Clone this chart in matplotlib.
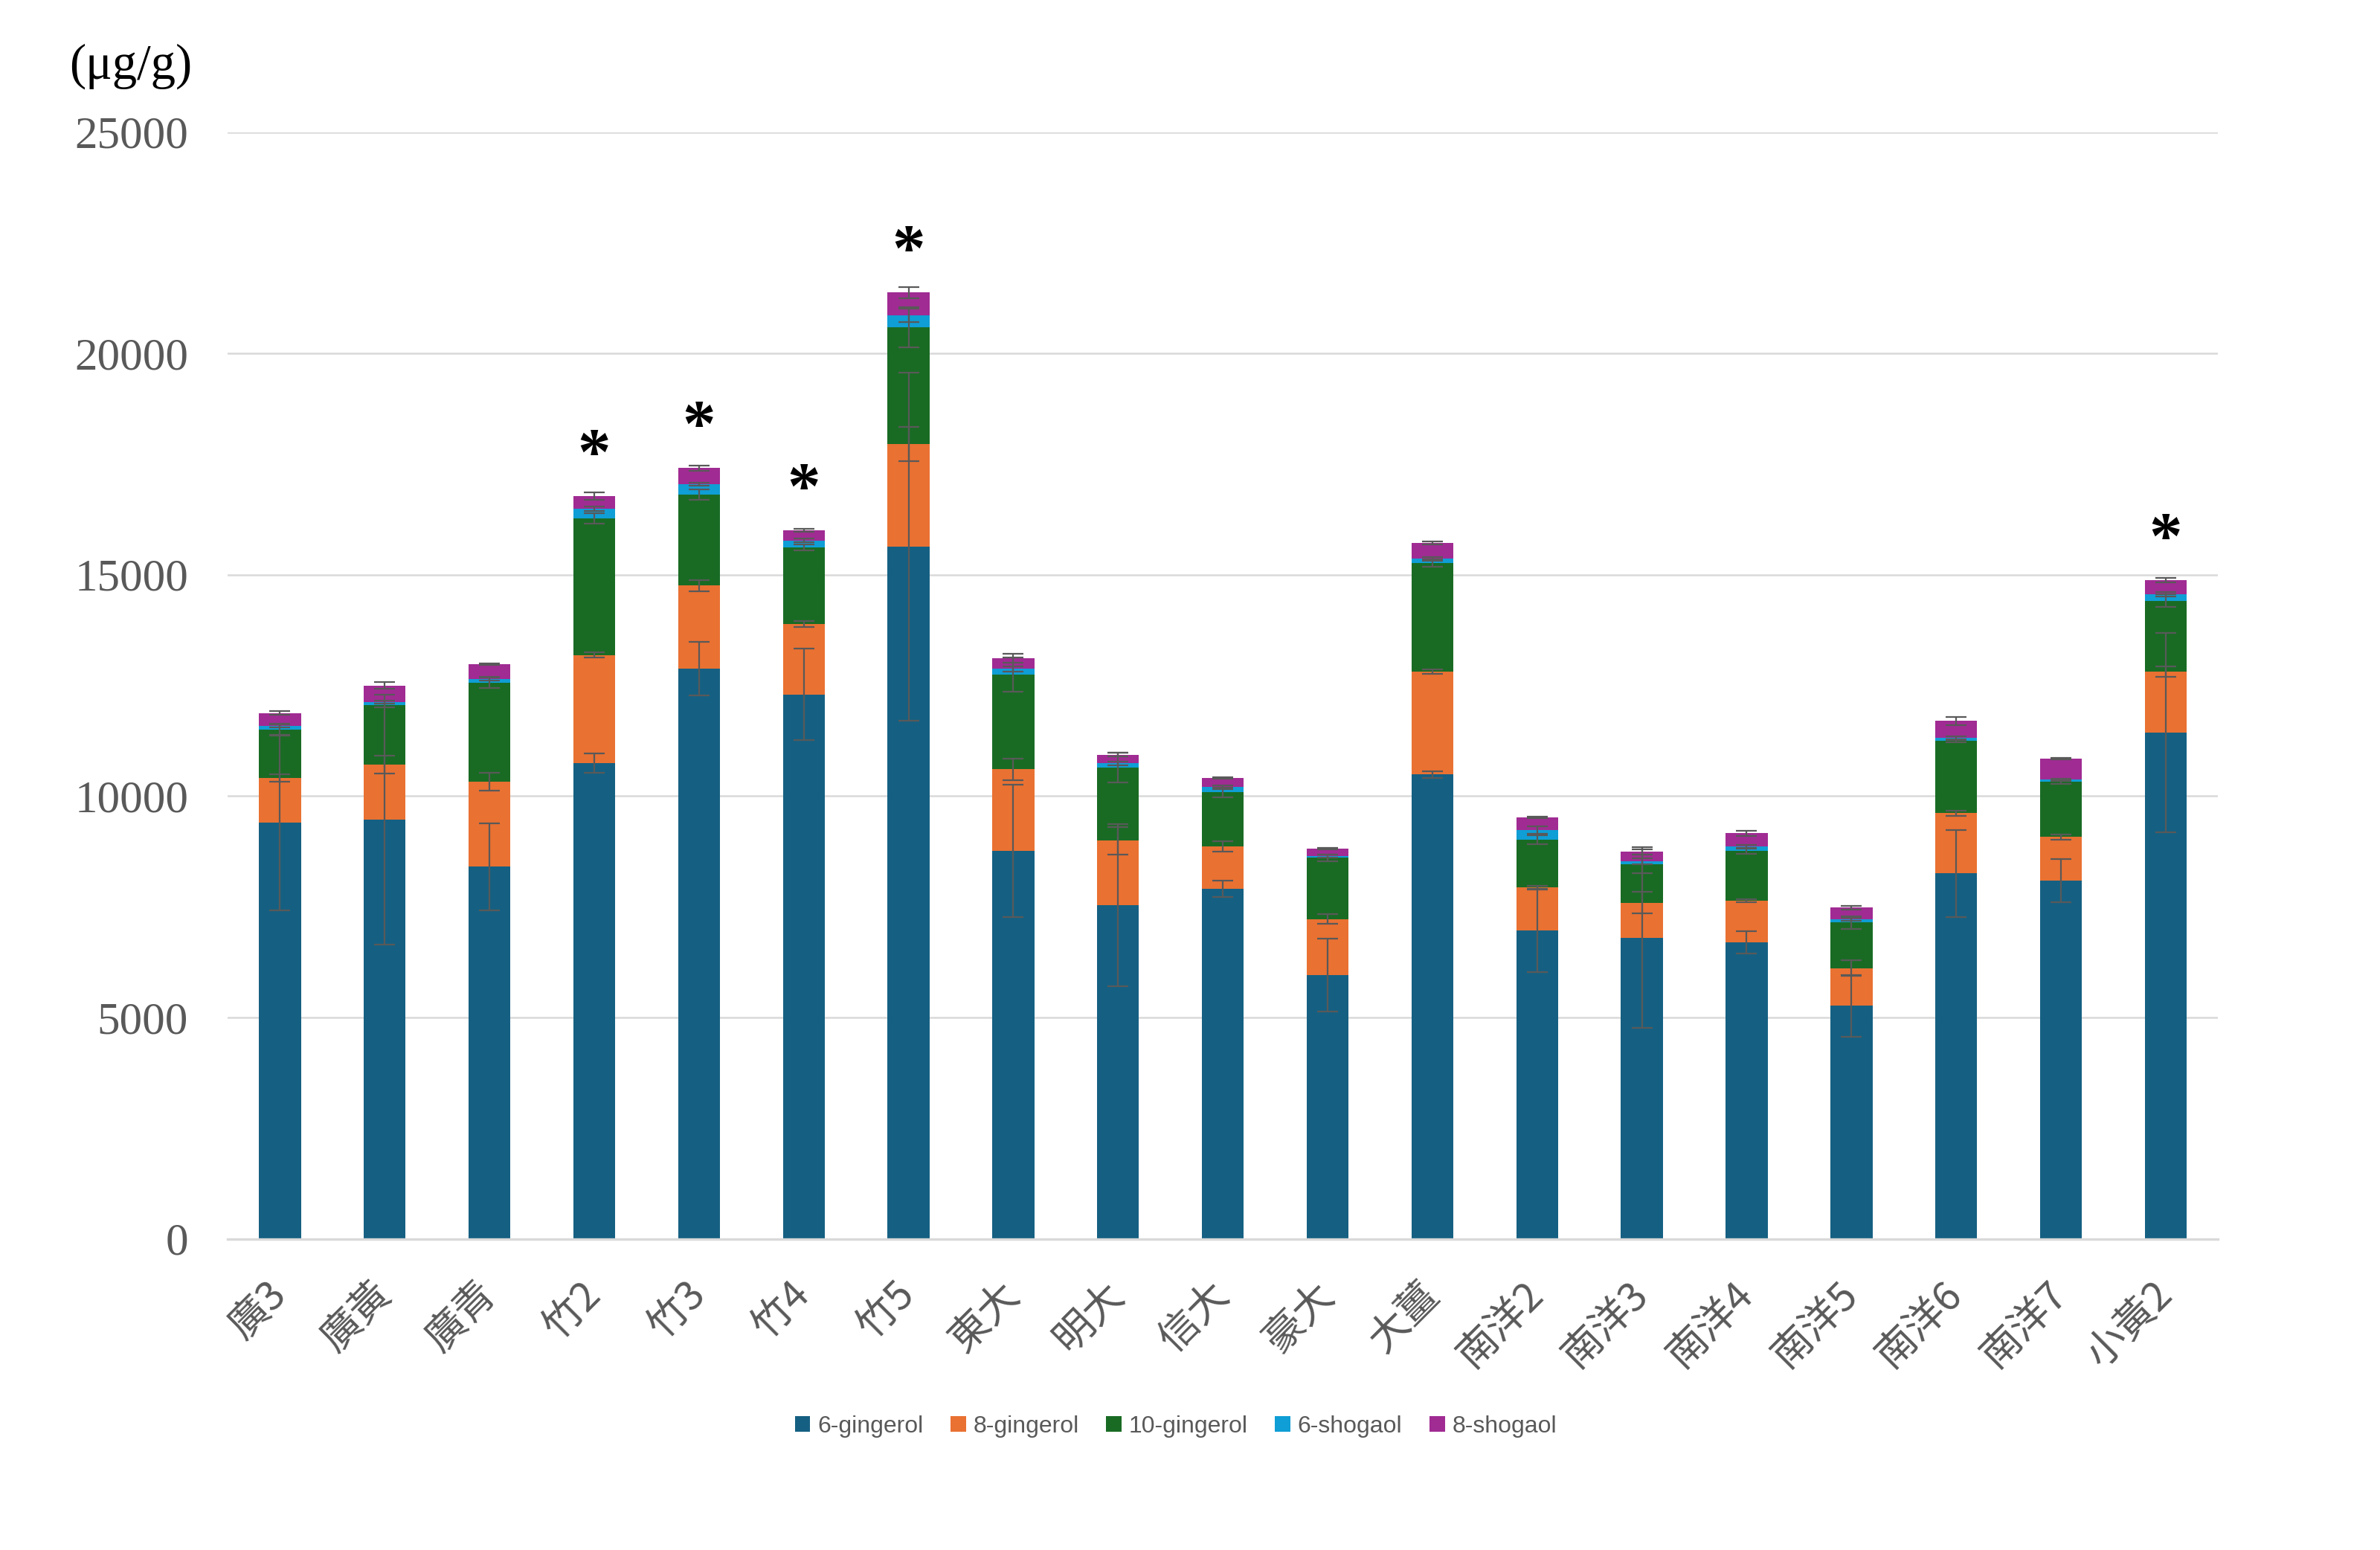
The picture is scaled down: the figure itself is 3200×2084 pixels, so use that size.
import numpy as np
import matplotlib
matplotlib.use('Agg')
import matplotlib.pyplot as plt
from matplotlib.transforms import ScaledTranslation

# Sample names (x axis)
samples = ['廣3', '廣黃', '廣青', '竹2', '竹3', '竹4', '竹5', '東大', '明大', '信大', '豪大',
           '大薑', '南洋2', '南洋3', '南洋4', '南洋5', '南洋6', '南洋7', '小黃2']

series_names = ['6-gingerol', '8-gingerol', '10-gingerol', '6-shogaol', '8-shogaol']
series_colors = ['#156082', '#E97132', '#196B24', '#0F9ED5', '#A02B93']

# Contents (ug/g), one list per compound
gingerol_6 = [9405, 9472, 8403, 10751, 12876, 12298, 15635, 8755, 7536, 7901, 5955,
              10489, 6966, 6804, 6698, 5261, 8253, 8091, 11435]
gingerol_8 = [1006, 1242, 1925, 2436, 1882, 1593, 2310, 1855, 1456, 969, 1268,
              2328, 971, 789, 940, 855, 1359, 984, 1379]
gingerol_10 = [1090, 1337, 2237, 3083, 2055, 1733, 2644, 2137, 1650, 1213, 1380,
               2448, 1076, 873, 1118, 1029, 1639, 1242, 1601]
shogaol_6 = [80, 73, 79, 220, 231, 150, 266, 128, 96, 122, 40,
             96, 216, 61, 107, 73, 62, 50, 140]
shogaol_8 = [290, 374, 330, 288, 369, 231, 519, 244, 199, 199, 169,
             353, 289, 212, 296, 263, 386, 476, 320]

# Standard deviations
sd_gingerol_6 = [1986, 2824, 982, 219, 606, 1039, 3926, 1495, 1837, 186, 819,
                 76, 939, 2044, 254, 699, 984, 495, 2249]
sd_gingerol_8 = [87, 198, 201, 58, 127, 64, 387, 244, 308, 116, 112,
                 48, 40, 243, 30, 179, 59, 64, 118]
sd_gingerol_10 = [130, 45, 123, 115, 120, 69, 450, 385, 340, 103, 80,
                  88, 104, 212, 56, 145, 40, 50, 139]
sd_shogaol_6 = [35, 40, 40, 50, 40, 40, 150, 60, 40, 40, 30,
                40, 88, 60, 40, 40, 40, 30, 50]
sd_shogaol_8 = [42, 81, 17, 87, 58, 40, 121, 99, 40, 20, 20,
                30, 20, 60, 56, 45, 95, 20, 50]

# Samples marked with an asterisk
significant = ['竹2', '竹3', '竹4', '竹5', '小黃2']

values = [gingerol_6, gingerol_8, gingerol_10, shogaol_6, shogaol_8]
errors = [sd_gingerol_6, sd_gingerol_8, sd_gingerol_10, sd_shogaol_6, sd_shogaol_8]

fig = plt.figure(figsize=(16, 10.42), dpi=200)
ax = fig.add_axes([0.0956, 0.2008, 0.8364, 0.714])

x = np.arange(len(samples))
bottom = np.zeros(len(samples))
for name, color, vals, errs in zip(series_names, series_colors, values, errors):
    vals = np.array(vals, dtype=float)
    ax.bar(x, vals, 0.4, bottom=bottom, color=color, label=name, zorder=2)
    bottom = bottom + vals
    # error bar sits on the top of each stacked segment
    ax.errorbar(x, bottom, yerr=errs, fmt='none', ecolor='#595959',
                elinewidth=0.8, capsize=5, capthick=0.8, zorder=3)

# Asterisks above the stacks
for name in significant:
    i = samples.index(name)
    ax.text(i, bottom[i] + 520, '*', ha='center', va='baseline', fontsize=32,
            family='Liberation Serif', fontweight='bold', color='black', zorder=4)

ax.set_xlim(-0.5, len(samples) - 0.5)
ax.set_ylim(0, 25000)
ax.set_yticks(np.arange(0, 25001, 5000))
ax.set_yticklabels([str(v) for v in range(0, 25001, 5000)],
                   family='Liberation Serif', fontsize=22, color='#595959')
ax.set_xticks(x)
ax.set_xticklabels(samples, rotation=45, ha='right', rotation_mode='anchor',
                   family=['Noto Sans CJK TC', 'DejaVu Sans'], fontsize=19.5, color='#595959')
ax.tick_params(axis='y', length=0, pad=19)
ax.tick_params(axis='x', length=0, pad=17)
# nudge the slanted labels a little to the left
shift = ScaledTranslation(-7 / 72, 0, fig.dpi_scale_trans)
for lab in ax.get_xticklabels():
    lab.set_transform(lab.get_transform() + shift)

ax.yaxis.grid(True, color='#D9D9D9', linewidth=0.9, zorder=0)
ax.set_axisbelow(True)
for side in ['top', 'right', 'left']:
    ax.spines[side].set_visible(False)
ax.spines['bottom'].set_color('#D9D9D9')
ax.spines['bottom'].set_linewidth(1.2)

# unit label
fig.text(0.029, 0.957, '(μg/g)', ha='left', va='center', fontsize=24,
         family='Liberation Serif', color='black')

leg = fig.legend(loc='center', bbox_to_anchor=(0.494, 0.0797), ncol=5, frameon=False,
                 handlelength=0.65, handleheight=0.65, handletextpad=0.3,
                 columnspacing=1.15, prop={'family': 'Liberation Sans', 'size': 11.5})
for t in leg.get_texts():
    t.set_color('#595959')

fig.savefig('out.png', dpi=200)
